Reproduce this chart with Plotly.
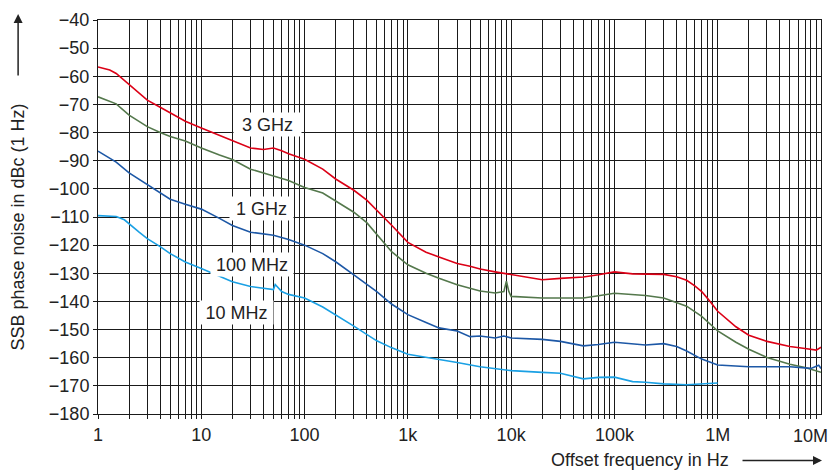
import math
import plotly.graph_objects as go

# ---------------- data ----------------
f_3g = [1, 1.3, 1.5, 2, 3, 4, 5, 7, 10, 15, 20, 30, 40, 50, 60, 70, 100, 150, 200, 300, 400, 500, 700,
        1e3, 1.5e3, 2e3, 3e3, 4e3, 5e3, 7e3, 1e4, 1.5e4, 2e4, 3e4, 5e4, 7e4, 1e5, 1.5e5, 2e5, 3e5, 4e5,
        5e5, 6e5, 7e5, 8e5, 1e6, 1.5e6, 2e6, 3e6, 5e6, 7e6, 9e6, 1e7]
v_3g = [-56.7, -57.8, -59.0, -63.0, -68.5, -71.0, -73.0, -76.0, -78.4, -81.0, -83.0, -85.5, -86.0, -85.5,
        -86.5, -87.5, -89.5, -93.0, -96.5, -100.5, -104.0, -107.5, -113.0, -119.0, -122.5, -124.2, -126.5,
        -127.5, -128.5, -129.5, -130.5, -131.5, -132.3, -131.8, -131.3, -130.5, -129.5, -130.2, -130.3,
        -130.4, -131.2, -132.5, -134.5, -136.5, -139.0, -143.5, -149.0, -152.0, -154.2, -156.0, -156.7,
        -157.3, -156.3]

f_1g = [1, 1.5, 2, 3, 4, 5, 7, 10, 15, 20, 30, 40, 50, 70, 100, 150, 200, 300, 400, 500, 700,
        1e3, 1.5e3, 2e3, 3e3, 5e3, 7e3, 8.5e3, 9e3, 9.5e3, 1e4, 2e4, 5e4, 7e4, 1e5, 2e5, 3e5, 5e5, 7e5,
        1e6, 1.5e6, 2e6, 3e6, 5e6, 7e6, 1e7]
v_1g = [-67.3, -69.8, -73.8, -77.9, -80.0, -81.4, -83.0, -85.5, -88.0, -89.6, -93.0, -94.5, -95.4, -97.0,
        -99.5, -101.5, -104.2, -108.3, -112.0, -116.0, -122.4, -127.0, -130.0, -131.8, -134.1, -136.3,
        -137.0, -136.5, -132.8, -136.5, -138.2, -138.8, -138.8, -138.0, -137.1, -137.9, -138.8, -141.7,
        -145.3, -150.5, -154.5, -157.0, -159.9, -162.3, -163.5, -165.2]

f_100m = [1, 1.5, 2, 3, 5, 7, 10, 15, 20, 30, 50, 70, 100, 150, 200, 300, 500, 700, 1e3, 1.5e3, 2e3,
          3e3, 4e3, 5e3, 7e3, 8.5e3, 1e4, 2e4, 3e4, 5e4, 7e4, 1e5, 2e5, 3e5, 4e5, 5e5, 7e5, 1e6, 2e6,
          5e6, 8e6, 9.5e6, 1e7]
v_100m = [-86.6, -90.5, -94.3, -98.4, -103.7, -105.5, -107.2, -110.5, -113.0, -115.4, -116.5, -118.0,
          -120.0, -123.0, -125.9, -130.6, -136.5, -141.0, -144.7, -147.5, -149.4, -150.5, -152.5, -152.3,
          -153.0, -152.3, -153.0, -153.5, -154.2, -155.8, -155.3, -154.5, -155.5, -155.0, -156.0, -157.6,
          -160.5, -162.6, -163.2, -163.2, -163.8, -162.7, -163.8]

f_10m = [1, 1.5, 1.8, 2, 2.5, 3, 4, 5, 7, 10, 15, 20, 30, 45, 50, 52, 60, 70, 100, 150, 200, 300, 500,
         700, 1e3, 2e3, 3e3, 5e3, 1e4, 2e4, 3e4, 5e4, 7e4, 1e5, 1.5e5, 2e5, 3e5, 5e5, 7e5, 1e6]
v_10m = [-109.5, -109.8, -111.0, -112.5, -115.4, -117.7, -120.5, -123.0, -126.0, -128.3, -131.0, -133.0,
         -134.7, -135.6, -135.8, -134.0, -136.5, -137.5, -138.8, -142.0, -144.7, -148.8, -154.0, -156.5,
         -158.8, -160.5, -161.7, -163.2, -164.6, -165.2, -165.5, -167.5, -167.0, -166.9, -168.5, -168.7,
         -169.3, -169.6, -169.2, -169.0]

series = [
    ("3 GHz", f_3g, v_3g, "#dc0016"),
    ("1 GHz", f_1g, v_1g, "#54784c"),
    ("100 MHz", f_100m, v_100m, "#1d58a6"),
    ("10 MHz", f_10m, v_10m, "#1aa0e4"),
]

x_tick_vals = [1, 10, 100, 1e3, 1e4, 1e5, 1e6]
x_tick_text = ["1", "10", "100", "1k", "10k", "100k", "1M"]
x_last_tick = "10M"
y_tick_vals = list(range(-180, -39, 10))
y_tick_text = ["\u2212" + str(abs(v)) for v in y_tick_vals]

# labels: (text, frequency, level, box width)
labels = [("3 GHz", 44, -77.0, 65), ("1 GHz", 38.5, -106.9, 61), ("100 MHz", 30.9, -126.7, 80),
          ("10 MHz", 22.1, -143.9, 71)]

minor_vals = [m * 10 ** d for d in range(0, 7) for m in range(2, 10)]

FONT = "Liberation Sans, Arial, sans-serif"
FS = 18
fig = go.Figure()
for name, fx, fy, col in series:
    fig.add_trace(go.Scatter(x=fx, y=fy, mode="lines", name=name,
                             line=dict(color=col, width=1.6), showlegend=False))

for txt, fx, fy, w in labels:
    fig.add_annotation(x=math.log10(fx), y=fy, xref="x", yref="y", text=txt, showarrow=False,
                       bgcolor="white", width=w, height=21,
                       font=dict(family=FONT, size=FS, color="#222"))

fig.update_xaxes(type="log", range=[0, 7], tickmode="array", tickvals=x_tick_vals, ticktext=x_tick_text,
                 showgrid=True, gridcolor="#1a1a1a", gridwidth=1,
                 ticks="outside", ticklen=4, tickcolor="#1a1a1a",
                 showline=True, linecolor="#1a1a1a", linewidth=1, mirror=True,
                 minor=dict(tickmode="array", tickvals=minor_vals, showgrid=True, gridcolor="#1a1a1a",
                            gridwidth=1, ticks="outside", ticklen=4, tickcolor="#1a1a1a"),
                 tickfont=dict(family=FONT, size=FS, color="#222"), zeroline=False)
fig.update_yaxes(range=[-180, -40], tickmode="array", tickvals=y_tick_vals, ticktext=y_tick_text,
                 showgrid=True, gridcolor="#1a1a1a", gridwidth=1,
                 ticks="outside", ticklen=4, tickcolor="#1a1a1a",
                 showline=True, linecolor="#1a1a1a", linewidth=1, mirror=True,
                 tickfont=dict(family=FONT, size=FS, color="#222"), zeroline=False)

# last x tick label (right-aligned so it stays inside the page)
fig.add_annotation(xref="paper", yref="paper", x=1.012, y=-0.055, text=x_last_tick, showarrow=False,
                   xanchor="right", yanchor="middle", font=dict(family=FONT, size=FS, color="#222"))

# axis titles and arrows
fig.add_annotation(xref="paper", yref="paper", x=-0.111, y=0.475, text="SSB phase noise in dBc (1 Hz)",
                   textangle=-90, showarrow=False, xanchor="center", yanchor="middle",
                   font=dict(family=FONT, size=FS, color="#222"))
fig.add_annotation(xref="paper", yref="paper", x=-0.1105, y=1.015, ax=0, ay=63, axref="pixel", ayref="pixel",
                   text="", showarrow=True, arrowhead=2, arrowsize=1.2, arrowwidth=1.5, arrowcolor="#222")
fig.add_annotation(xref="paper", yref="paper", x=0.8757, y=-0.118, text="Offset frequency in Hz",
                   showarrow=False, xanchor="right", yanchor="middle",
                   font=dict(family=FONT, size=FS, color="#222"))
fig.add_annotation(xref="paper", yref="paper", x=1.0014, y=-0.118, ax=-81, ay=0,
                   text="", showarrow=True, arrowhead=2, arrowsize=1.2, arrowwidth=1.5, arrowcolor="#222")

fig.update_layout(width=832, height=475, margin=dict(l=98, r=10, t=16, b=61),
                  plot_bgcolor="white", paper_bgcolor="white")
fig.write_html("out.html")
